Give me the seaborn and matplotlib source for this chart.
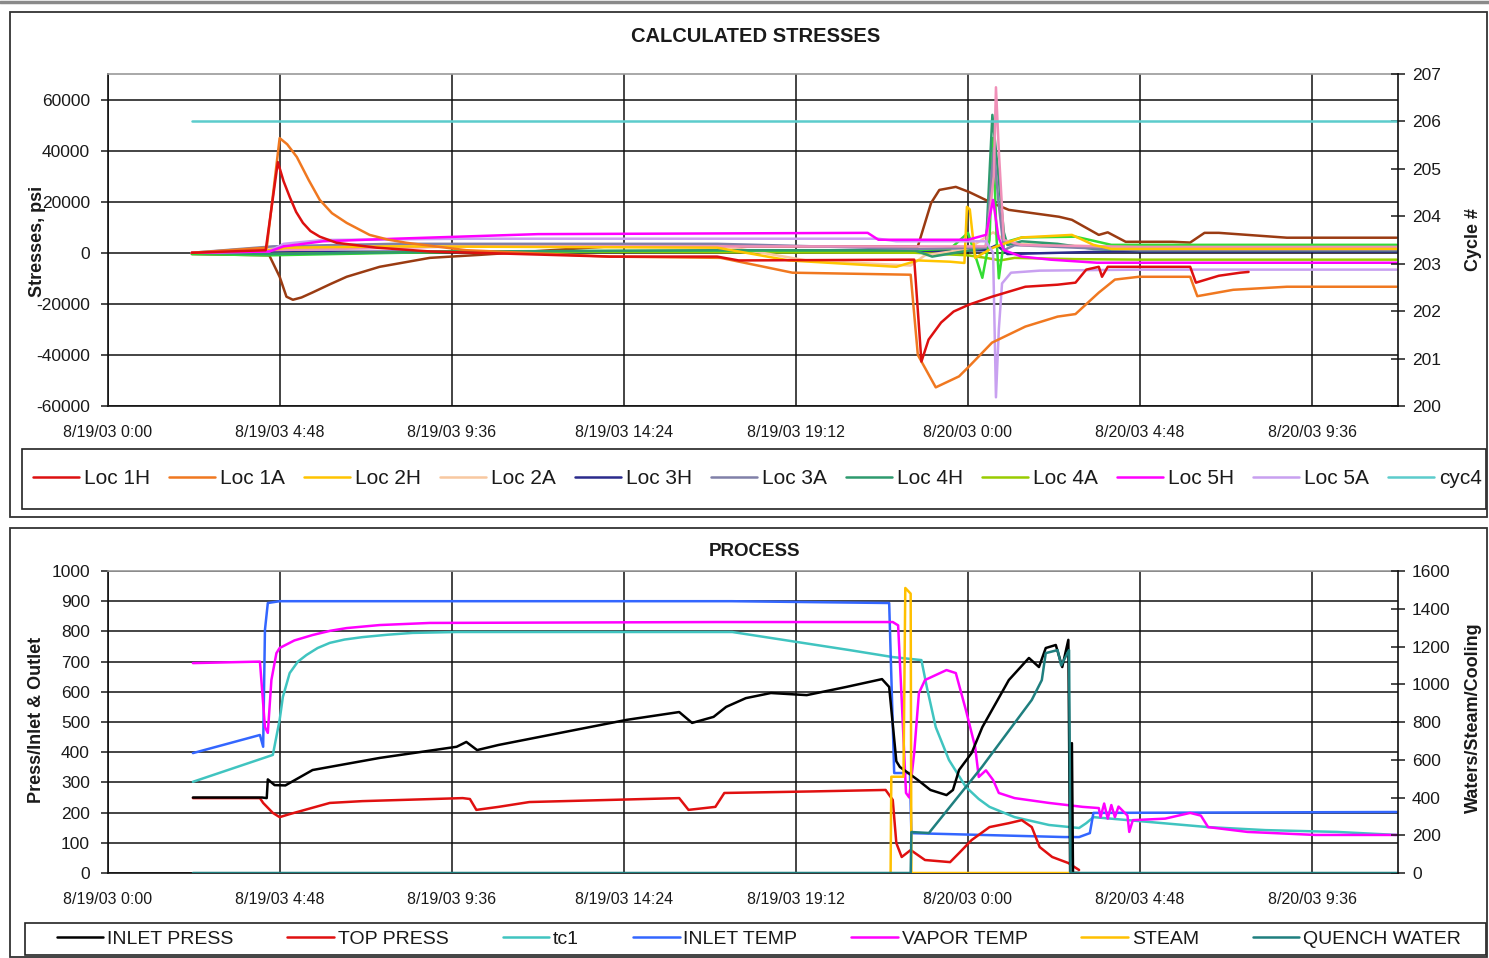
import matplotlib
matplotlib.use("Agg")
import matplotlib.pyplot as plt
from matplotlib.patches import Rectangle
from matplotlib.lines import Line2D
import seaborn as sns

sns.set_style("white")
plt.rcParams['font.family'] = ['Liberation Sans', 'DejaVu Sans']
plt.rcParams['axes.unicode_minus'] = False

# ---------------- DATA (time in hours from 8/19/03 0:00) ----------------
xtick_vals = [0, 4.8, 9.6, 14.4, 19.2, 24.0, 28.8, 33.6]
xtick_labels = ["8/19/03 0:00", "8/19/03 4:48", "8/19/03 9:36", "8/19/03 14:24",
                "8/19/03 19:12", "8/20/03 0:00", "8/20/03 4:48", "8/20/03 9:36"]

# --- Calculated stresses (psi) ---
loc1h_t = [2.34, 4.40, 4.74, 4.9, 5.07, 5.25, 5.44, 5.65, 5.91, 6.38, 7.5, 9.0, 14.0, 17.0, 17.6, 22.5,
           22.7, 22.9, 23.25, 23.6, 24.03, 24.67, 25.6, 26.5, 27.0, 27.3, 27.65, 27.74, 27.9, 30.2,
           30.36, 31.0, 31.6, 31.83]
loc1h = [0, 1000, 35500, 28000, 21900, 16000, 11700, 8500, 6300, 3900, 2000, 500, -1500, -1500, -3000, -2700,
         -42600, -34000, -27300, -23000, -20300, -17200, -13300, -12500, -11700, -6600, -5500, -9400, -5500, -5500,
         -11700, -9000, -7800, -7500]

loc1a_t = [2.34, 4.43, 4.79, 5.0, 5.27, 5.6, 5.91, 6.25, 6.66, 7.3, 7.8, 8.33, 10.0, 14.0, 17.1, 19.1, 22.4,
           22.6, 23.1, 23.75, 24.03, 24.67, 25.6, 26.5, 27.0, 27.65, 28.1, 28.77, 30.2, 30.4, 31.4,
           32.9, 35.96]
loc1a = [0, 2000, 44900, 42500, 37500, 28500, 20700, 15500, 11700, 7000, 5200, 3900, 1000, -1500, -2000, -7800, -8600,
         -40000, -52700, -48400, -44500, -35200, -28900, -25000, -24000, -15600, -10500, -9400, -9400, -17000, -14500,
         -13300, -13300]

loc2h_t = [2.34, 4.4, 5.0, 8.0, 17.0, 19.0, 22.0, 22.6, 23.5, 23.9, 23.97, 24.05, 24.2, 24.7, 25.5,
           26.9, 27.5, 28.0, 35.96]
loc2h = [0, 800, 2000, 2500, 2000, -3000, -5500, -3000, -3500, -4000, 18000, 17000, -2000, 2000, 6000,
         7000, 3100, 1500, 1500]

loc2a_t = [2.34, 4.5, 8.0, 17.0, 19.5, 22.4, 22.8, 24.0, 24.7, 25.2, 28.0, 35.96]
loc2a = [0, 1500, 3000, 3000, -3000, -5000, -1000, 1500, 8000, 3500, 2300, 2300]

loc3h_t = [2.34, 4.5, 10.0, 22.5, 24.5, 24.8, 25.1, 28.0, 35.96]
loc3h = [0, 300, 500, 500, 1000, 3000, -500, 500, 500]

loc3a_t = [2.34, 4.6, 8.0, 17.0, 22.5, 24.5, 24.72, 24.85, 25.0, 25.3, 27.0, 28.8, 35.96]
loc3a = [0, 2500, 3500, 3500, 1500, 2000, 41000, 20000, 1000, 3000, 2000, 1000, 1000]

loc4h_t = [2.34, 4.5, 10.0, 17.0, 22.5, 23.0, 24.5, 24.68, 24.85, 25.0, 25.1, 25.5, 26.5, 27.5, 28.8, 35.96]
loc4h = [0, -500, 500, 1000, 1000, -1500, 2000, 54000, 30000, 8000, 3000, 4500, 3500, 1500, 1000, 1000]

loc4a_t = [2.34, 4.5, 10.0, 22.5, 24.0, 24.5, 24.9, 25.3, 27.0, 28.8, 35.96]
loc4a = [0, -500, 500, 0, -1000, -2000, -3000, -2000, -2500, -2700, -2700]

loc5h_t = [2.34, 4.5, 4.9, 6.0, 8.0, 12.0, 21.2, 21.5, 24.0, 24.5, 24.7, 24.85, 25.0, 25.5, 26.3, 27.6, 35.96]
loc5h = [0, 500, 2500, 4500, 5500, 7300, 7800, 5100, 5100, 7000, 20700, 6000, 1000, -1500, -2700, -3900, -3900]

loc5a_t = [2.34, 4.5, 4.9, 6.0, 10.0, 21.5, 22.0, 24.5, 24.7, 24.78, 24.86, 24.95, 25.2, 26.0, 28.8, 35.96]
loc5a = [0, 500, 3500, 5000, 5500, 5500, 4500, 4500, 0, -56600, -30000, -12000, -7800, -7000, -6600, -6600]

cyc4_t = [2.34, 35.96]
cyc4 = [206, 206]

# extra traces visible in the plot but not named in the legend
brown_t = [2.34, 4.5, 4.79, 4.98, 5.16, 5.4, 5.7, 6.2, 6.66, 7.58, 8.98, 10.4, 14.0, 22.6, 22.97, 23.2, 23.66,
           24.03, 24.67, 25.14, 26.54, 26.9, 27.65, 27.9, 28.4, 29.7, 30.2, 30.6, 31.0, 32.9, 35.96]
brown = [-500, -1000, -9400, -17200, -18400, -17500, -15600, -12300, -9400, -5500, -2000, -800, 2500, 2500, 19500,
         24600, 25800, 23800, 19500, 16800, 14100, 12900, 7000, 8000, 4300, 4300, 4000, 7800, 7800, 5900, 5900]

pink_t = [2.34, 4.5, 10.0, 22.0, 24.5, 24.72, 24.78, 24.86, 25.0, 25.5, 28.8, 35.96]
pink = [0, 1000, 2500, 2500, 2500, 30000, 64800, 40000, 5000, 3000, 2300, 2300]

green_t = [2.34, 4.5, 10.0, 22.5, 23.5, 24.0, 24.4, 24.6, 24.7, 24.8, 24.86, 25.0, 25.5, 27.0, 28.0, 35.96]
green = [-500, -1000, 500, 1000, 1500, 7800, -9800, 5000, 45000, 5000, -10000, 4000, 6000, 6300, 3100, 3100]

# --- Process ---
inlet_press_t = [2.37, 4.3, 4.43, 4.46, 4.65, 4.95, 5.71, 7.58, 9.73, 10.0, 10.3, 10.9, 14.47, 15.94,
                 16.3, 16.9, 17.25, 17.8, 18.5, 19.5, 20.6, 21.6, 21.8, 22.0, 22.1, 22.6, 22.95, 23.4,
                 23.58, 23.75, 24.1, 24.4, 24.78, 25.14, 25.7, 25.98, 26.17, 26.45, 26.63, 26.8, 26.85,
                 26.9, 26.93, 27.1]
inlet_press = [250, 250, 248, 310, 291, 290, 341, 381, 418, 434, 407, 424, 507, 533,
               497, 517, 550, 579, 596, 589, 616, 642, 616, 370, 351, 308, 275, 258,
               275, 341, 397, 483, 563, 639, 712, 682, 745, 755, 682, 772, 0,
               430, 0, 0]

top_press_t = [2.37, 4.24, 4.33, 4.6, 4.79, 5.07, 6.19, 7.1, 9.9, 10.1, 10.28, 10.9, 11.76, 15.94, 16.2,
               16.95, 17.2, 19.6, 21.7, 21.9, 22.0, 22.15, 22.4, 22.8, 23.5, 23.75, 24.1, 24.6, 25.14,
               25.5, 25.78, 26.0, 26.35, 26.8, 27.1]
top_press = [248, 248, 232, 199, 185, 195, 232, 238, 248, 245, 209, 219, 235, 248, 209,
             219, 265, 270, 275, 242, 99, 53, 76, 43, 36, 66, 109, 152, 165,
             175, 152, 86, 53, 33, 10]

tc1_t = [2.37, 4.6, 4.79, 4.88, 5.07, 5.3, 5.54, 5.85, 6.19, 6.6, 7.1, 7.8, 8.5, 9.73, 17.42, 20.7, 21.9,
         22.7, 22.85, 23.1, 23.47, 23.94, 24.3, 24.6, 25.3, 26.26, 27.1, 27.3, 27.5, 30.7, 32.3, 34.3, 35.96]
tc1 = [302, 391, 507, 583, 662, 700, 722, 745, 762, 773, 781, 789, 795, 798, 798, 738, 715,
       705, 616, 483, 374, 285, 245, 219, 185, 159, 149, 165, 185, 152, 142, 136, 126]

inlet_temp_t = [2.37, 4.24, 4.33, 4.38, 4.46, 4.79, 17.4, 21.8, 21.94, 22.38, 22.42, 26.7, 27.1, 27.4,
                27.5, 35.96]
inlet_temp = [397, 457, 418, 805, 894, 900, 900, 894, 331, 331, 132, 119, 119, 132, 199, 202]

vapor_temp_t = [2.37, 4.24, 4.38, 4.46, 4.56, 4.7, 4.79, 5.2, 5.71, 6.2, 6.66, 7.58, 8.98, 17.0, 21.9, 22.05,
                22.15, 22.27, 22.36, 22.5, 22.63, 22.8, 23.4, 23.66, 23.94, 24.2, 24.3, 24.5, 24.7,
                24.86, 25.3, 26.26, 27.2, 27.65, 27.7, 27.8, 27.9, 28.0, 28.1, 28.2, 28.45, 28.5,
                28.6, 29.5, 30.2, 30.5, 30.7, 31.8, 33.7, 35.96]
vapor_temp = [695, 700, 483, 464, 639, 728, 745, 770, 788, 802, 811, 821, 828, 831, 831, 820,
              573, 265, 250, 400, 596, 639, 672, 662, 540, 417, 318, 340, 308,
              265, 248, 232, 219, 215, 185, 230, 180, 225, 185, 220, 190, 136,
              175, 180, 199, 190, 152, 136, 126, 126]

steam_t = [21.84, 21.86, 22.2, 22.25, 22.4, 22.42, 26.9]
steam = [0, 510, 510, 1510, 1480, 0, 0]

quench_t = [2.37, 22.4, 22.42, 22.91, 24.39, 25.78, 26.06, 26.17, 26.5, 26.6, 26.82, 26.86, 35.96]
quench = [0, 0, 217, 212, 562, 917, 1022, 1165, 1181, 1100, 1181, 0, 0]

# ---------------- FIGURE ----------------
W, H = 1489, 958
fig = plt.figure(figsize=(W / 100, H / 100), dpi=100)
fig.patch.set_facecolor("white")


def fx(px):
    return px / W


def fy(py):
    return 1 - py / H


LW = 1.8
GRID = "#111111"
TXT = "#1a1a1a"


def line(ax, t, v, color, label="_nolegend_"):
    sns.lineplot(x=t, y=v, ax=ax, color=color, lw=LW, estimator=None, sort=False, label=label)


def style_axes(ax, ax2, ylim, yticks, ylim2, yticks2):
    ax.set_xlim(0, 36)
    ax.set_ylim(*ylim)
    ax.set_yticks(yticks)
    ax.set_xticks(xtick_vals)
    ax.set_xticklabels(xtick_labels, fontsize=11.5, color=TXT)
    ax.tick_params(axis="y", labelsize=12.5, colors=TXT, direction="out", length=5, width=1.1, pad=8)
    ax.tick_params(axis="x", direction="out", length=6, width=1.1, pad=8)
    ax.grid(True, color=GRID, lw=1.1)
    ax.set_axisbelow(True)
    for s in ["left", "bottom"]:
        ax.spines[s].set_color(GRID)
        ax.spines[s].set_linewidth(1.2)
    ax.spines["top"].set_color("#9a9a9a")
    ax.spines["top"].set_linewidth(1.2)
    ax.spines["right"].set_visible(False)
    ax.set_xlabel("")
    ax.set_ylabel("")
    ax2.set_ylim(*ylim2)
    ax2.set_yticks(yticks2)
    ax2.tick_params(axis="y", labelsize=12.5, colors=TXT, direction="inout", length=10, width=1.1, pad=5)
    ax2.spines["right"].set_color(GRID)
    ax2.spines["right"].set_linewidth(1.2)
    for s in ["left", "bottom", "top"]:
        ax2.spines[s].set_visible(False)
    ax2.set_ylabel("")
    ax2.grid(False)


# ---- top panel ----
ax1 = fig.add_axes([fx(108), fy(406), fx(1398 - 108), (406 - 74) / H])
ax1b = ax1.twinx()

line(ax1, brown_t, brown, "#9a3b12")
line(ax1, loc3h_t, loc3h, "#2b2b8c", "Loc 3H")
line(ax1, loc4a_t, loc4a, "#99cc00", "Loc 4A")
line(ax1, loc2a_t, loc2a, "#f8c8a0", "Loc 2A")
line(ax1, green_t, green, "#33dd33")
line(ax1, loc4h_t, loc4h, "#2e9a6e", "Loc 4H")
line(ax1, loc3a_t, loc3a, "#8080a8", "Loc 3A")
line(ax1, pink_t, pink, "#f090b8")
line(ax1, loc2h_t, loc2h, "#ffc400", "Loc 2H")
line(ax1, loc5a_t, loc5a, "#c8a0f0", "Loc 5A")
line(ax1, loc5h_t, loc5h, "#ff00ff", "Loc 5H")
line(ax1, loc1a_t, loc1a, "#f07820", "Loc 1A")
line(ax1, loc1h_t, loc1h, "#dd1010", "Loc 1H")
line(ax1b, cyc4_t, cyc4, "#5ccccc", "cyc4")

style_axes(ax1, ax1b, (-60000, 70000), list(range(-60000, 60001, 20000)),
           (200, 207), list(range(200, 208)))

# ---- bottom panel ----
ax2 = fig.add_axes([fx(108), fy(873), fx(1398 - 108), (873 - 571) / H])
ax2b = ax2.twinx()

line(ax2, tc1_t, tc1, "#40c4c0", "tc1")
line(ax2, inlet_temp_t, inlet_temp, "#3366ff", "INLET TEMP")
line(ax2, vapor_temp_t, vapor_temp, "#ff00ff", "VAPOR TEMP")
line(ax2, top_press_t, top_press, "#e01010", "TOP PRESS")
line(ax2, inlet_press_t, inlet_press, "#000000", "INLET PRESS")
line(ax2b, steam_t, steam, "#ffc000", "STEAM")
line(ax2b, quench_t, quench, "#1f7f7f", "QUENCH WATER")

style_axes(ax2, ax2b, (0, 1000), list(range(0, 1001, 100)),
           (0, 1600), list(range(0, 1601, 200)))

for a in (ax1, ax1b, ax2, ax2b):
    lg = a.get_legend()
    if lg is not None:
        lg.remove()

# ---- legends ----
def collect(axes, order):
    hd = {}
    for a in axes:
        h, l = a.get_legend_handles_labels()
        for hh, ll in zip(h, l):
            hd[ll] = hh
    return [hd[o] for o in order], order


top_order = ["Loc 1H", "Loc 1A", "Loc 2H", "Loc 2A", "Loc 3H", "Loc 3A", "Loc 4H", "Loc 4A",
             "Loc 5H", "Loc 5A", "cyc4"]
h, l = collect([ax1, ax1b], top_order)
leg1 = fig.legend(h, l, loc="center", ncol=11, mode="expand",
                  bbox_to_anchor=(fx(25), fy(509), fx(1490 - 25), (509 - 449) / H),
                  fontsize=15, handlelength=2.2, handletextpad=0.25, borderpad=0.4,
                  frameon=False, borderaxespad=0)
for t in leg1.get_texts():
    t.set_color(TXT)

bot_order = ["INLET PRESS", "TOP PRESS", "tc1", "INLET TEMP", "VAPOR TEMP", "STEAM", "QUENCH WATER"]
h, l = collect([ax2, ax2b], bot_order)
leg2 = fig.legend(h, l, loc="center", ncol=7, mode="expand",
                  bbox_to_anchor=(fx(49), fy(955), fx(1469 - 49), (955 - 923) / H),
                  fontsize=14, handlelength=2.4, handletextpad=0.2, borderpad=0.4,
                  frameon=False, borderaxespad=0)
for t in leg2.get_texts():
    t.set_color(TXT)

# legend frames
fig.add_artist(Rectangle((fx(22), fy(509)), fx(1486 - 22), (509 - 449) / H, transform=fig.transFigure,
                         fill=False, edgecolor="#222222", lw=1.2))
fig.add_artist(Rectangle((fx(25), fy(955)), fx(1486 - 25), (955 - 923) / H, transform=fig.transFigure,
                         fill=False, edgecolor="#222222", lw=1.2))

# ---- titles and axis labels ----
fig.text(fx(756), fy(37), "CALCULATED STRESSES", ha="center", va="center",
         fontsize=14.5, fontweight="bold", color=TXT)
fig.text(fx(754), fy(552), "PROCESS", ha="center", va="center",
         fontsize=13.5, fontweight="bold", color=TXT)
fig.text(fx(37), fy(241), "Stresses, psi", rotation=90, ha="center", va="center",
         fontsize=13, fontweight="bold", color=TXT)
fig.text(fx(1473), fy(240), "Cycle #", rotation=90, ha="center", va="center",
         fontsize=13, fontweight="bold", color=TXT)
fig.text(fx(37), fy(720), "Press/Inlet & Outlet", rotation=90, ha="center", va="center",
         fontsize=13, fontweight="bold", color=TXT)
fig.text(fx(1473), fy(718), "Waters/Steam/Cooling", rotation=90, ha="center", va="center",
         fontsize=13, fontweight="bold", color=TXT)

# ---- panel frames ----
fig.add_artist(Rectangle((fx(10), fy(517)), fx(1487 - 10), (517 - 12) / H, transform=fig.transFigure,
                         fill=False, edgecolor="#333333", lw=1.3))
fig.add_artist(Rectangle((fx(10), fy(957)), fx(1487 - 10), (957 - 528) / H, transform=fig.transFigure,
                         fill=False, edgecolor="#333333", lw=1.3))
fig.add_artist(Line2D([0, 1], [fy(2), fy(2)], transform=fig.transFigure, color="#8a8a8a", lw=2.5))

fig.savefig("out.png", dpi=100)
